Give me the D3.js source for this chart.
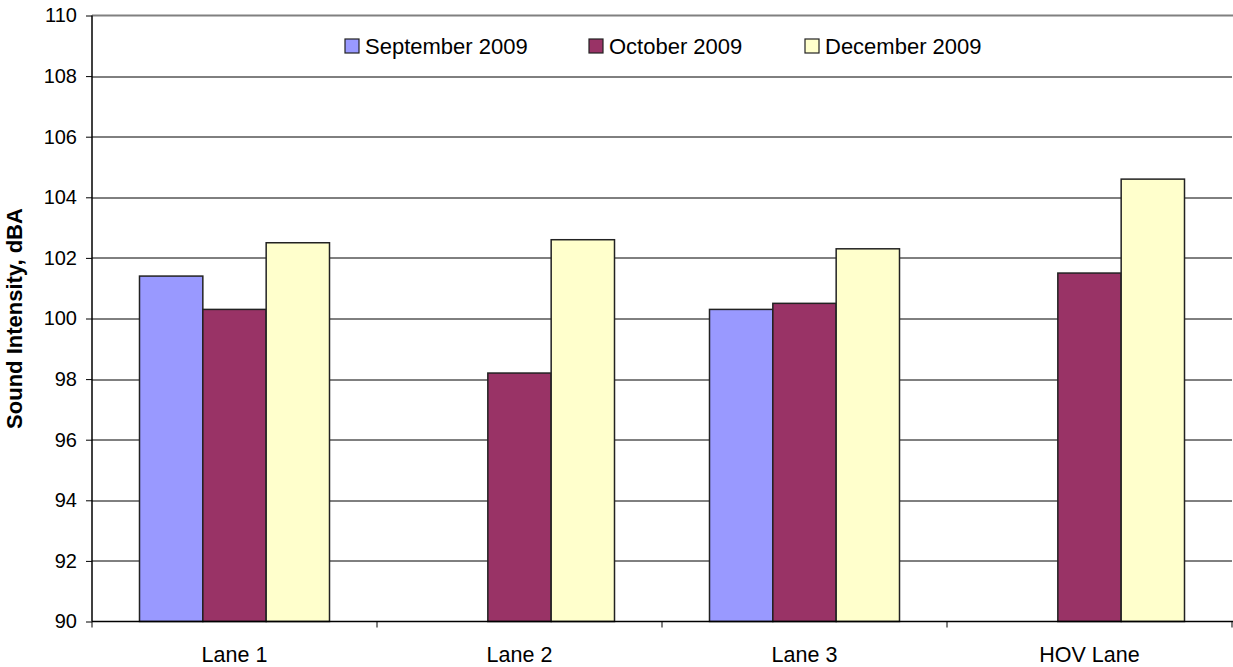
<!DOCTYPE html>
<html>
<head>
<meta charset="utf-8">
<script src="https://cdn.jsdelivr.net/npm/d3@7"></script>
<style>
  body { margin: 0; background: #fff; }
  svg text { font-family: "Liberation Sans", Arial, sans-serif; fill: #000; }
</style>
</head>
<body>
<div id="chart"></div>
<script>
// sound intensity by lane, three test dates
var lanes = ["Lane 1", "Lane 2", "Lane 3", "HOV Lane"];
var seriesNames = ["September 2009", "October 2009", "December 2009"];
var sep2009 = [101.4, null, 100.3, null];
var oct2009 = [100.3, 98.2, 100.5, 101.5];
var dec2009 = [102.5, 102.6, 102.3, 104.6];
var yTicks = [90, 92, 94, 96, 98, 100, 102, 104, 106, 108, 110];
var colors = ["#9999ff", "#993366", "#ffffcc"];

var W = 1233, H = 667;
var margin = { top: 15.5, right: 1, bottom: 45.5, left: 92 };
var width = W - margin.left - margin.right,
    height = H - margin.top - margin.bottom;

var svg = d3.select("#chart").append("svg")
    .attr("width", W).attr("height", H);
var g = svg.append("g")
    .attr("transform", "translate(" + margin.left + "," + margin.top + ")");

var x0 = d3.scaleBand().domain(lanes).range([0, width]);
var x1 = d3.scaleBand().domain(seriesNames)
    .range([0, x0.bandwidth()]).paddingOuter(0.75).paddingInner(0);
var y = d3.scaleLinear().domain([90, 110]).range([height, 0]);

// gridlines
g.selectAll("line.grid").data(yTicks.slice(1, -1)).enter().append("line")
    .attr("class", "grid")
    .attr("x1", 0).attr("x2", width)
    .attr("y1", function(d) { return Math.round(y(d)) + 0.5; })
    .attr("y2", function(d) { return Math.round(y(d)) + 0.5; })
    .attr("stroke", "#000").attr("stroke-width", 1);

// top border
g.append("line").attr("x1", 0).attr("x2", width + 1)
    .attr("y1", y(110)).attr("y2", y(110))
    .attr("stroke", "#808080").attr("stroke-width", 2);

// bars
var data = [sep2009, oct2009, dec2009];
data.forEach(function(vals, si) {
  g.selectAll("rect.s" + si)
      .data(vals.map(function(v, i) { return { lane: lanes[i], v: v }; })
                .filter(function(d) { return d.v != null; }))
      .enter().append("rect")
      .attr("class", "s" + si)
      .attr("x", function(d) { return x0(d.lane) + x1(seriesNames[si]); })
      .attr("y", function(d) { return y(d.v); })
      .attr("width", x1.bandwidth())
      .attr("height", function(d) { return y(90) - y(d.v); })
      .attr("fill", colors[si])
      .attr("stroke", "#222").attr("stroke-width", 1.5);
});

// y axis
var yAxis = d3.axisLeft(y).tickValues(yTicks).tickSize(6).tickPadding(9)
    .tickFormat(d3.format("d"));
var ya = g.append("g").call(yAxis);
ya.select(".domain").attr("stroke", "#000").attr("stroke-width", 1.5)
    .attr("d", "M0,0V" + height);
ya.selectAll(".tick line").attr("stroke", "#000");
ya.selectAll("text").style("font-size", "20px");

// x axis
var xa = g.append("g").attr("transform", "translate(0," + height + ")");
xa.append("line").attr("x1", 0).attr("x2", width + 1)
    .attr("stroke", "#000").attr("stroke-width", 1.5);
xa.selectAll("line.tk").data(d3.range(lanes.length + 1)).enter().append("line")
    .attr("class", "tk")
    .attr("x1", function(i) { return i * x0.step(); })
    .attr("x2", function(i) { return i * x0.step(); })
    .attr("y1", 0).attr("y2", 6).attr("stroke", "#000");
xa.selectAll("text").data(lanes).enter().append("text")
    .attr("x", function(d) { return x0(d) + x0.bandwidth() / 2; })
    .attr("y", 40)
    .attr("text-anchor", "middle")
    .style("font-size", "21.5px")
    .text(function(d) { return d; });

// y title
svg.append("text")
    .attr("transform", "translate(22," + (margin.top + height / 2) + ") rotate(-90)")
    .attr("text-anchor", "middle")
    .style("font-size", "22px").style("font-weight", "bold")
    .text("Sound Intensity, dBA");

// legend
var legX = [345, 589, 805];
var leg = svg.selectAll("g.leg").data(seriesNames).enter().append("g")
    .attr("class", "leg")
    .attr("transform", function(d, i) { return "translate(" + legX[i] + ",39)"; });
leg.append("rect").attr("width", 14).attr("height", 14)
    .attr("fill", function(d, i) { return colors[i]; })
    .attr("stroke", "#222").attr("stroke-width", 1.2);
leg.append("text").attr("x", 20).attr("y", 15)
    .style("font-size", "22px")
    .text(function(d) { return d; });
</script>
</body>
</html>
